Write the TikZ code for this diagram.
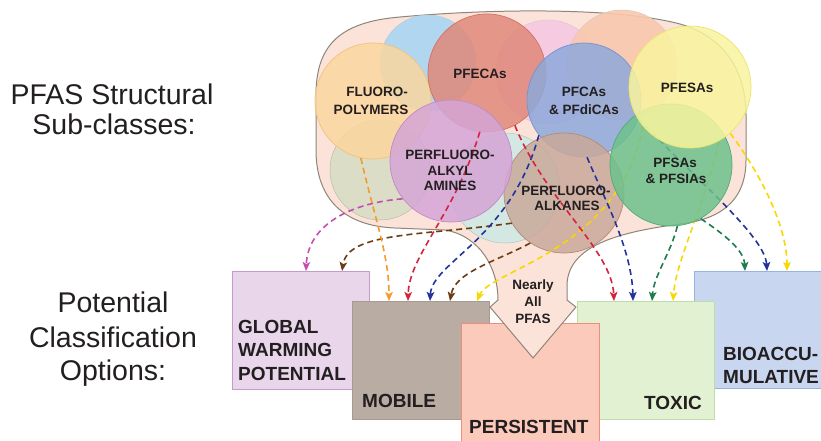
\documentclass[tikz,border=0pt]{standalone}
\usepackage{fontspec}
\setmainfont{Liberation Sans}
\usetikzlibrary{arrows.meta,calc}
\definecolor{ink}{HTML}{231F20}
\definecolor{blobF}{HTML}{FBE3D9}
\definecolor{blobD}{HTML}{8E8679}
\definecolor{bgblue}{HTML}{A9D5F2}
\definecolor{bgpink}{HTML}{F6C9E3}
\definecolor{bgpeach}{HTML}{F9C8AE}
\definecolor{bgsage}{HTML}{D9DDC5}
\definecolor{bgcyan}{HTML}{CFE9E3}
\definecolor{fluF}{HTML}{FBD79F}\definecolor{fluD}{HTML}{F2C27A}
\definecolor{pecF}{HTML}{E0897A}\definecolor{pecD}{HTML}{D46F60}
\definecolor{pcaF}{HTML}{8EA9DB}\definecolor{pcaD}{HTML}{7393CF}
\definecolor{alkF}{HTML}{C9A99A}\definecolor{alkD}{HTML}{B48A7A}
\definecolor{amiF}{HTML}{D5A5D6}\definecolor{amiD}{HTML}{C289C9}
\definecolor{psaF}{HTML}{6DC18D}\definecolor{psaD}{HTML}{52AC74}
\definecolor{pesF}{HTML}{F8F49E}\definecolor{pesD}{HTML}{EDE46A}
\definecolor{gwpF}{HTML}{EAD6EB}\definecolor{gwpD}{HTML}{C69BCB}
\definecolor{mobF}{HTML}{B9ACA3}\definecolor{mobD}{HTML}{A89A90}
\definecolor{perF}{HTML}{FBCABB}\definecolor{perD}{HTML}{EE8C7D}
\definecolor{toxF}{HTML}{E3F1D3}\definecolor{toxD}{HTML}{BFDDA8}
\definecolor{bioF}{HTML}{C9D6EF}\definecolor{bioD}{HTML}{94B5E4}
\definecolor{amag}{HTML}{C24FB3}
\definecolor{abrown}{HTML}{6A3D14}
\definecolor{aorange}{HTML}{F39B2D}
\definecolor{ared}{HTML}{D5223F}
\definecolor{ablue}{HTML}{24339C}
\definecolor{ayellow}{HTML}{F7D900}
\definecolor{agreen}{HTML}{1E7B4B}
\tikzset{
  bgc/.style={circle, inner sep=0pt, fill opacity=0.9, line width=0.5pt},
  lc/.style={circle, inner sep=0pt, fill opacity=0.85, line width=0.7pt},
  box/.style={rectangle, inner sep=0pt, line width=0.8pt, anchor=north west},
  dar/.style={line width=1.6pt, dash pattern=on 6pt off 4pt,
    -{Stealth[length=9pt,width=7.5pt,inset=2pt]}},
  clab/.style={font=\bfseries\fontsize{13.5}{16}\selectfont, text=ink, inner sep=0pt, anchor=base},
  blab/.style={font=\bfseries\fontsize{19}{23}\selectfont, text=ink, inner sep=0pt},
  side/.style={font=\fontsize{28.5}{34}\selectfont, text=ink, inner sep=0pt, anchor=base},
}
\begin{document}
\begin{tikzpicture}[x=1pt,y=-1pt]
\useasboundingbox (0,0) rectangle (821,441);
\clip (0,0) rectangle (821,441);
\fill[white] (0,0) rectangle (821,441);

% side titles
\node[side] (ps1) at (112,105) {PFAS Structural};
\node[side] (ps2) at (114,135) {Sub-classes:};
\node[side] (pc1) at (113,312) {Potential};
\node[side] (pc2) at (113,347) {Classification};
\node[side] (pc3) at (113,380) {Options:};

% classification boxes
\node[box, fill=gwpF, draw=gwpD, minimum width=137pt, minimum height=118pt] (gwp) at (232,271) {};
\node[box, fill=bioF, draw=bioD, minimum width=140pt, minimum height=117pt] (bio) at (694,271) {};
\node[box, fill=mobF, draw=mobD, minimum width=137pt, minimum height=118pt] (mob) at (352,301) {};
\node[box, fill=toxF, draw=toxD, minimum width=137pt, minimum height=118pt] (tox) at (577,301) {};
\node[box, fill=perF, draw=perD, minimum width=138pt, minimum height=130pt] (per) at (461,323) {};

% blob with arrow
\path[fill=blobF, draw=blobD, line width=1pt] (490,307) -- (498,300)
  .. controls (498,268) and (480,236) .. (445,230)
  -- (395,228)
  .. controls (345,226) and (316,200) .. (316,150)
  -- (316,95)
  .. controls (316,45) and (340,22) .. (400,17)
  .. controls (500,8) and (620,8) .. (680,24)
  .. controls (728,38) and (746,75) .. (746,115)
  -- (746,160)
  .. controls (746,205) and (715,220) .. (680,224)
  .. controls (620,232) and (568,245) .. (567,285)
  -- (567,300) -- (576,307) -- (533,358) -- cycle;

% background circles
\node[bgc, fill=bgblue, draw=bgblue!80!black!60, minimum size=96pt] (cblue) at (428,63) {};
\node[bgc, fill=bgpink, draw=bgpink!80!black!60, minimum size=104pt] (cpink) at (548,72) {};
\node[bgc, fill=bgpeach, draw=bgpeach!80!black!60, minimum size=110pt] (cpeach) at (622,65) {};
\node[bgc, fill=bgsage, draw=bgsage!85!black, minimum size=100pt] (csage) at (380,170) {};
\node[bgc, fill=bgcyan, draw=bgcyan!85!black, minimum size=110pt] (ccyan) at (505,188) {};

% labelled circles
\node[lc, fill=fluF, draw=fluD, minimum size=116pt] (fluoro) at (373,101) {};
\node[lc, fill=pecF, draw=pecD, minimum size=118pt] (pfecas) at (487,73) {};
\node[lc, fill=pcaF, draw=pcaD, minimum size=114pt] (pfcas) at (584,100) {};
\node[lc, fill=alkF, draw=alkD, minimum size=120pt] (alkanes) at (564,193) {};
\node[lc, fill=amiF, draw=amiD, minimum size=122pt] (amines) at (451,161) {};

% end points on the boxes
\coordinate (gwpA) at ($(gwp.north west)+(74,0)$);
\coordinate (gwpB) at ($(gwp.north west)+(110,0)$);
\coordinate (mobA) at ($(mob.north west)+(37,0)$);
\coordinate (mobB) at ($(mob.north west)+(56,0)$);
\coordinate (mobC) at ($(mob.north west)+(78,0)$);
\coordinate (mobD) at ($(mob.north west)+(98,0)$);
\coordinate (mobE) at ($(mob.north west)+(125,0)$);
\coordinate (toxA) at ($(tox.north west)+(37,0)$);
\coordinate (toxB) at ($(tox.north west)+(56,0)$);
\coordinate (toxC) at ($(tox.north west)+(75,0)$);
\coordinate (toxD) at ($(tox.north west)+(96,0)$);
\coordinate (bioA) at ($(bio.north west)+(51,0)$);
\coordinate (bioB) at ($(bio.north west)+(73,0)$);
\coordinate (bioC) at ($(bio.north west)+(93,0)$);

\node[lc, minimum size=122pt] (pfsas) at (671,165) {};
\node[lc, minimum size=122pt] (pfesas) at (690,87) {};

% dashed connectors
\draw[dar, amag] (amines.-142) .. controls (350,203) and (308,225) .. (gwpA);
\draw[dar, abrown] (alkanes.-150) .. controls (420,236) and (348,232) .. (gwpB);
\draw[dar, aorange] (fluoro.-102) .. controls (375,220) and (389,255) .. (mobA);
\draw[dar, ared] (pfecas.-97) .. controls (455,215) and (409,255) .. (mobB);
\draw[dar, ablue] (pfcas.-142) .. controls (510,240) and (432,262) .. (mobC);
\draw[dar, abrown] (alkanes.-124) .. controls (495,262) and (455,272) .. (mobD);
\draw[dar, ayellow] (pfesas.-140) .. controls (620,250) and (490,270) .. (mobE);
\draw[dar, ared] (pfecas.-62) .. controls (545,200) and (612,250) .. (toxA);
\draw[dar, ablue] (pfcas.-87) .. controls (605,200) and (632,250) .. (toxB);
\draw[dar, agreen] (pfsas.-84) .. controls (670,255) and (654,275) .. (toxC);
\draw[dar, ayellow] (pfesas.-62) .. controls (705,205) and (676,260) .. (toxD);
\draw[dar, agreen] (pfsas.-61) .. controls (725,235) and (744,250) .. (bioA);
\draw[dar, ablue] (pfcas.-18) .. controls (690,175) and (765,235) .. (bioB);
\draw[dar, ayellow] (pfesas.-49) .. controls (765,180) and (787,230) .. (bioC);

% upper circles painted over the connectors
\fill[psaF, fill opacity=0.85] (pfsas.center) circle[radius=61pt];
\draw[psaD, line width=0.7pt] (pfsas.center) circle[radius=61pt];
\fill[pesF, fill opacity=0.85] (pfesas.center) circle[radius=61pt];
\draw[pesD, line width=0.7pt] (pfesas.center) circle[radius=61pt];

% circle labels
\node[clab] (fl1) at (377,97) {FLUORO-};
\node[clab] (fl2) at (371,114) {POLYMERS};
\node[clab] (pe1) at (480,79) {PFECAs};
\node[clab] (am1) at (450,159) {PERFLUORO-};
\node[clab] (am2) at (450,175) {ALKYL};
\node[clab] (am3) at (450,190) {AMINES};
\node[clab] (pcl1) at (584,97) {PFCAs};
\node[clab] (pcl2) at (584,114) {\& PFdiCAs};
\node[clab] (pes1) at (687,93) {PFESAs};
\node[clab] (psl1) at (675,167) {PFSAs};
\node[clab] (psl2) at (676,183) {\& PFSIAs};
\node[clab] (al1) at (566,195) {PERFLUORO-};
\node[clab] (al2) at (567,210) {ALKANES};
\node[clab] (na1) at (533,289) {Nearly};
\node[clab] (na2) at (533,306) {All};
\node[clab] (na3) at (533,323) {PFAS};

% box labels
\node[blab, anchor=base west] (g1) at (238,333) {GLOBAL};
\node[blab, anchor=base west] (g2) at (238,356) {WARMING};
\node[blab, anchor=base west] (g3) at (238,380) {POTENTIAL};
\node[blab, anchor=base west] (mo) at (362,407) {MOBILE};
\node[blab, anchor=base west] (pe) at (469,433) {PERSISTENT};
\node[blab, anchor=base east] (tx) at (702,409) {TOXIC};
\node[blab, anchor=base west] (b1) at (723,360) {BIOACCU-};
\node[blab, anchor=base west] (b2) at (723,383) {MULATIVE};
\end{tikzpicture}
\end{document}
